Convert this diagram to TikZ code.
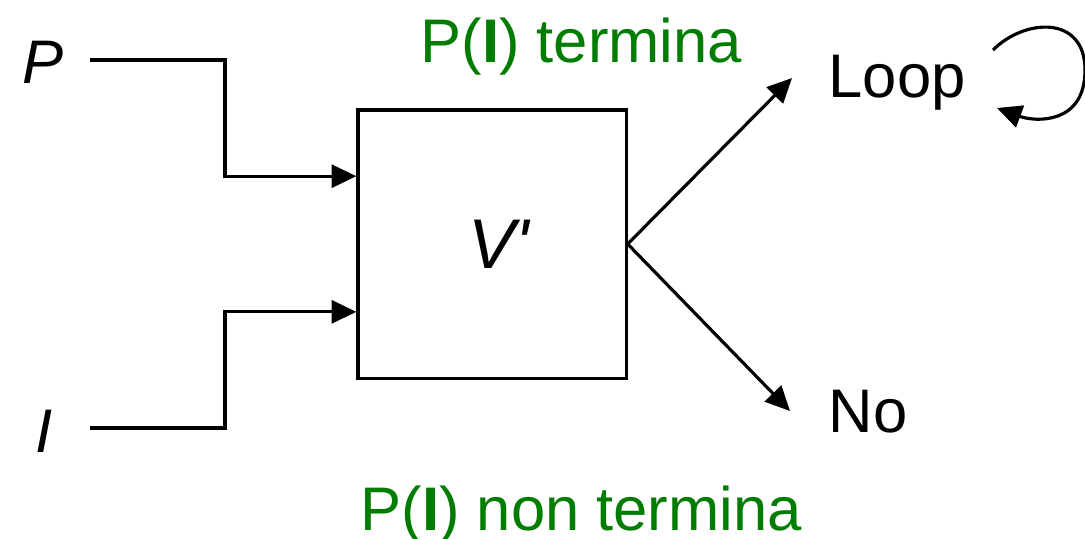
\documentclass[tikz,border=0pt]{standalone}
\usepackage{fontspec}
\setmainfont{Liberation Sans}
\usetikzlibrary{arrows.meta,calc}
\definecolor{labgreen}{RGB}{0,125,0}
\begin{document}
\begin{tikzpicture}[x=0.01cm,y=-0.01cm,
  wire/.style={line width=0.9pt,black},
  arr/.style={wire,-{Triangle[length=7pt,width=6.5pt]}},
  lbl/.style={inner sep=0pt,anchor=base west,font=\fontsize{17.5}{20}\selectfont},
  var/.style={lbl,font=\fontsize{17.5}{20}\selectfont\itshape},
  note/.style={lbl,text=labgreen}]
\useasboundingbox (0,0) rectangle (1085,538);
\node[draw,line width=0.9pt,minimum width=2.68cm,minimum height=2.68cm,inner sep=0pt] (box) at (492,244) {};
\node[inner sep=0pt,anchor=base west,font=\fontsize{20}{22}\selectfont\itshape] (V) at (468,268) {V\textquotesingle};
\node[var] (P) at (22,83) {P};
\node[var] (I) at (35,452) {I};
\node[lbl] (Loop) at (828,97) {Loop};
\node[lbl] (No) at (828,432) {No};
\node[note] (t1) at (420,62) {P(\textbf{I}) termina};
\node[note] (t2) at (360,530) {P(\textbf{I}) non termina};
\coordinate (pin) at (90,60);
\coordinate (iin) at (90,428);
\coordinate (lend) at (792,78);
\coordinate (nend) at (790,411);
\coordinate (ls) at (993,50);
\coordinate (le) at (997,108);
\draw[arr] (pin) -- (225,60) |- ($(box.north west)!0.25!(box.south west)$);
\draw[arr] (iin) -- (225,428) |- ($(box.north west)!0.75!(box.south west)$);
\draw[arr] (box.east) -- (lend);
\draw[arr] (box.east) -- (nend);
\draw[arr] (ls) .. controls (1025,18) and (1085,15) .. (1085,70) .. controls (1085,125) and (1035,122) .. (le);
\end{tikzpicture}
\end{document}
